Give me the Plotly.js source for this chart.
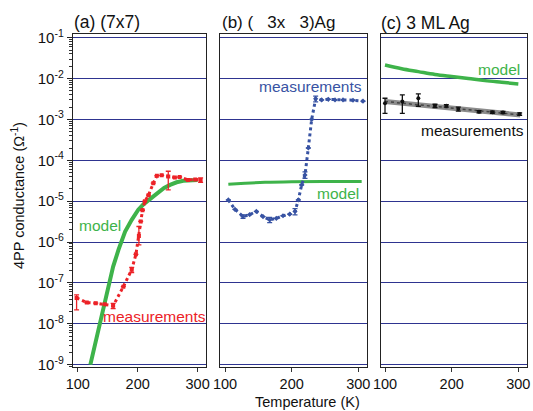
<!DOCTYPE html>
<html>
<head>
<meta charset="utf-8">
<script src="https://cdn.plot.ly/plotly-3.0.1.min.js"></script>
<style>html,body{margin:0;padding:0;background:#fff;}#chart{width:533px;height:411px;}</style>
</head>
<body>
<div id="chart"></div>
<script>
// ---------- data ----------
// panel (a) (7x7)
const aMeasT = [98, 115, 130, 145, 159, 176, 190, 197, 202, 205, 208, 212, 218, 226, 232, 240, 251, 262, 270, 284, 296, 305];
const aMeasG = [4.3e-8, 3.3e-8, 3.2e-8, 3.0e-8, 2.75e-8, 8.1e-8, 2.1e-7, 5e-7, 1.4e-6, 3.2e-6, 6.0e-6, 1.0e-5, 1.4e-5, 2.75e-5, 4.2e-5, 4.3e-5, 4.0e-5, 3.8e-5, 3.9e-5, 3.3e-5, 3.4e-5, 3.3e-5];
const aMeasErrPlus  = [0.8e-8, 0, 0, 0, 0.4e-8, 0, 0.3e-7, 0, 1.0e-6, 0, 0, 0, 0, 0, 0, 0, 1.4e-5, 0, 0, 0, 0, 0.4e-5];
const aMeasErrMinus = [2.1e-8, 0, 0, 0, 0.4e-8, 0, 0.3e-7, 0, 0.55e-6, 0, 0, 0, 0, 0, 0, 0, 2.1e-5, 0, 0, 0, 0, 0.4e-5];
const aModelT = [121, 137, 148, 159, 168, 179, 190, 201, 210, 220, 232, 244, 254, 265, 276, 287, 300];
const aModelG = [1.0e-9, 1.05e-8, 5.6e-8, 2.5e-7, 6.5e-7, 1.8e-6, 3.5e-6, 6.2e-6, 8.5e-6, 1.12e-5, 1.58e-5, 2.1e-5, 2.5e-5, 2.9e-5, 3.16e-5, 3.3e-5, 3.3e-5];

// panel (b) (√3x√3)Ag
const bMeasT = [105, 115, 127, 137, 147, 157, 167, 177, 187, 197, 205, 210, 215, 220, 225, 230, 236, 245, 255, 265, 277, 292, 307];
const bMeasG = [1.07e-5, 6.3e-6, 4.2e-6, 4.7e-6, 5.6e-6, 4.2e-6, 3.5e-6, 3.8e-6, 4.4e-6, 4.8e-6, 5.6e-6, 1.07e-5, 2.5e-5, 4.4e-5, 2e-4, 1e-3, 3.2e-3, 3.0e-3, 3.1e-3, 3.0e-3, 3.0e-3, 2.95e-3, 2.8e-3];
const bMeasErr = [0, 0, 0.4e-6, 0, 0, 0, 0.5e-6, 0, 0, 0, 1.0e-6, 0, 0, 0.8e-5, 0, 0, 0.5e-3, 0, 0, 0, 0, 0, 0];
const bModelT = [105, 130, 160, 200, 250, 305];
const bModelG = [2.6e-5, 2.75e-5, 2.9e-5, 3.0e-5, 3.05e-5, 3.05e-5];

// panel (c) 3 ML Ag
const cMeasT = [100, 126, 150, 175, 192, 210, 241, 261, 277, 302];
const cMeasG = [2.5e-3, 2.75e-3, 3.3e-3, 2.15e-3, 2.15e-3, 1.8e-3, 1.55e-3, 1.5e-3, 1.48e-3, 1.35e-3];
const cMeasErrPlus  = [0.8e-3, 1.25e-3, 0.9e-3, 0.2e-3, 0.15e-3, 0.2e-3, 0.1e-3, 0.1e-3, 0.1e-3, 0.1e-3];
const cMeasErrMinus = [1.1e-3, 1.35e-3, 1.2e-3, 0.2e-3, 0.15e-3, 0.2e-3, 0.1e-3, 0.1e-3, 0.1e-3, 0.1e-3];
const cFitT = [100, 303];
const cFitG = [2.75e-3, 1.29e-3];
const cModelT = [100, 125, 150, 175, 200, 225, 250, 275, 300];
const cModelG = [2.14e-2, 1.74e-2, 1.48e-2, 1.26e-2, 1.12e-2, 1.0e-2, 8.9e-3, 8.1e-3, 7.4e-3];

// ticks
const yTickVals = [1e-9, 1e-8, 1e-7, 1e-6, 1e-5, 1e-4, 1e-3, 1e-2, 1e-1];
const yTickText = ['10<sup>-9</sup>', '10<sup>-8</sup>', '10<sup>-7</sup>', '10<sup>-6</sup>', '10<sup>-5</sup>', '10<sup>-4</sup>', '10<sup>-3</sup>', '10<sup>-2</sup>', '10<sup>-1</sup>'];
const xTickVals = [100, 200, 300];
const xTickText = ['100', '200', '300'];
const panelTitles = ['(a) (7x7)', '(b) (\u00a0\u00a0\u00a03x\u00a0\u00a0\u00a03)Ag', '(c) 3 ML Ag'];

// ---------- styling ----------
const RED = '#ec2227', GREEN = '#3eb34a', BLUE = '#3853a3', BLACK = '#111111', GRID = '#2e3490';
const FONT = 'Liberation Sans, Arial, Helvetica, sans-serif';
const W = 533, H = 411;
const px = x => x / W, py = y => 1 - y / H;

const minorVals = [];
for (let e = -10; e <= -1; e++) for (let m = 2; m <= 9; m++) minorVals.push(m * Math.pow(10, e));

const yRange = [-9.05, -0.917];
const yDom = [py(366.7), py(34.3)];

function yax(showLabels) {
  return {
    type: 'log', range: yRange, domain: yDom,
    tickmode: 'array', tickvals: yTickVals, ticktext: yTickText,
    showticklabels: showLabels, ticks: showLabels ? 'outside' : '', ticklen: 5, tickcolor: '#222',
    tickfont: {family: FONT, size: 15, color: '#111'},
    minor: showLabels ? {tickmode: 'array', tickvals: minorVals, ticks: 'outside', ticklen: 3, tickcolor: '#333', showgrid: false} : {showgrid: false},
    showgrid: true, gridcolor: GRID, gridwidth: 1,
    showline: true, linecolor: '#222', linewidth: 1.2, mirror: true, zeroline: false
  };
}
function xax(dom, range) {
  return {
    domain: dom, range: range,
    tickmode: 'array', tickvals: xTickVals, ticktext: xTickText,
    ticks: 'outside', ticklen: 4, tickcolor: '#333',
    tickfont: {family: FONT, size: 14.5, color: '#111'},
    showgrid: false, zeroline: false,
    showline: true, linecolor: '#222', linewidth: 1.2, mirror: true
  };
}

function errs(plus, minus, color) {
  return {type: 'data', symmetric: false, array: plus, arrayminus: minus, color: color, thickness: 1.3, width: 2.5, visible: true};
}

const traces = [
  // (a)
  {x: aModelT, y: aModelG, xaxis: 'x', yaxis: 'y', mode: 'lines', line: {color: GREEN, width: 4}},
  {x: aMeasT, y: aMeasG, xaxis: 'x', yaxis: 'y', mode: 'lines+markers',
   line: {color: RED, width: 3, dash: 'dot'}, marker: {color: RED, size: 4, symbol: 'square'},
   error_y: errs(aMeasErrPlus, aMeasErrMinus, RED)},
  // (b)
  {x: bModelT, y: bModelG, xaxis: 'x2', yaxis: 'y2', mode: 'lines', line: {color: GREEN, width: 3, shape: 'spline'}},
  {x: bMeasT, y: bMeasG, xaxis: 'x2', yaxis: 'y2', mode: 'lines+markers',
   line: {color: BLUE, width: 3, dash: 'dot'}, marker: {color: BLUE, size: 4, symbol: 'diamond'},
   error_y: errs(bMeasErr, bMeasErr, BLUE)},
  // (c)
  {x: cModelT, y: cModelG, xaxis: 'x3', yaxis: 'y3', mode: 'lines', line: {color: GREEN, width: 3.5, shape: 'spline'}},
  {x: cFitT, y: cFitG, xaxis: 'x3', yaxis: 'y3', mode: 'lines', line: {color: '#8c8c8c', width: 5}},
  {x: cFitT, y: cFitG, xaxis: 'x3', yaxis: 'y3', mode: 'lines', line: {color: '#444', width: 1.5, dash: 'dot'}},
  {x: cMeasT, y: cMeasG, xaxis: 'x3', yaxis: 'y3', mode: 'markers',
   marker: {color: BLACK, size: 4, symbol: 'circle'},
   error_y: errs(cMeasErrPlus, cMeasErrMinus, BLACK)}
];

function ann(text, x, y, color, xanchor, size) {
  return {text: text, xref: 'paper', yref: 'paper', x: px(x), y: py(y), xanchor: xanchor, yanchor: 'middle',
          showarrow: false, font: {family: FONT, size: size, color: color}};
}

const layout = {
  width: W, height: H,
  margin: {l: 0, r: 0, t: 0, b: 0},
  paper_bgcolor: '#fff', plot_bgcolor: '#fff',
  showlegend: false,
  xaxis: xax([px(73), px(206)], [92, 314]),
  yaxis: yax(true),
  xaxis2: xax([px(220), px(367)], [92.5, 313]),
  yaxis2: Object.assign(yax(false), {anchor: 'x2'}),
  xaxis3: xax([px(381), px(527)], [94, 313]),
  yaxis3: Object.assign(yax(false), {anchor: 'x3'}),
  annotations: [
    ann(panelTitles[0], 72, 22, '#111', 'left', 17.5),
    ann(panelTitles[1], 220, 22, '#111', 'left', 17),
    ann(panelTitles[2], 379, 23, '#111', 'left', 17.5),
    ann('model', 77, 225, GREEN, 'left', 15.5),
    ann('measurements', 101, 316, RED, 'left', 15.5),
    ann('measurements', 364, 87, BLUE, 'right', 15.5),
    ann('model', 361, 193, GREEN, 'right', 15.5),
    ann('model', 522, 69, GREEN, 'right', 15.5),
    ann('measurements', 526, 130, '#111', 'right', 15.5),
    ann('Temperature (K)', 307, 402, '#111', 'center', 14.5),
    {text: '4PP conductance (Ω<sup>-1</sup>)', xref: 'paper', yref: 'paper', x: px(18), y: py(196),
     xanchor: 'center', yanchor: 'middle', textangle: -90, showarrow: false, font: {family: FONT, size: 14.5, color: '#111'}}
  ]
};

Plotly.newPlot('chart', traces, layout, {staticPlot: true, displayModeBar: false});
</script>
</body>
</html>
